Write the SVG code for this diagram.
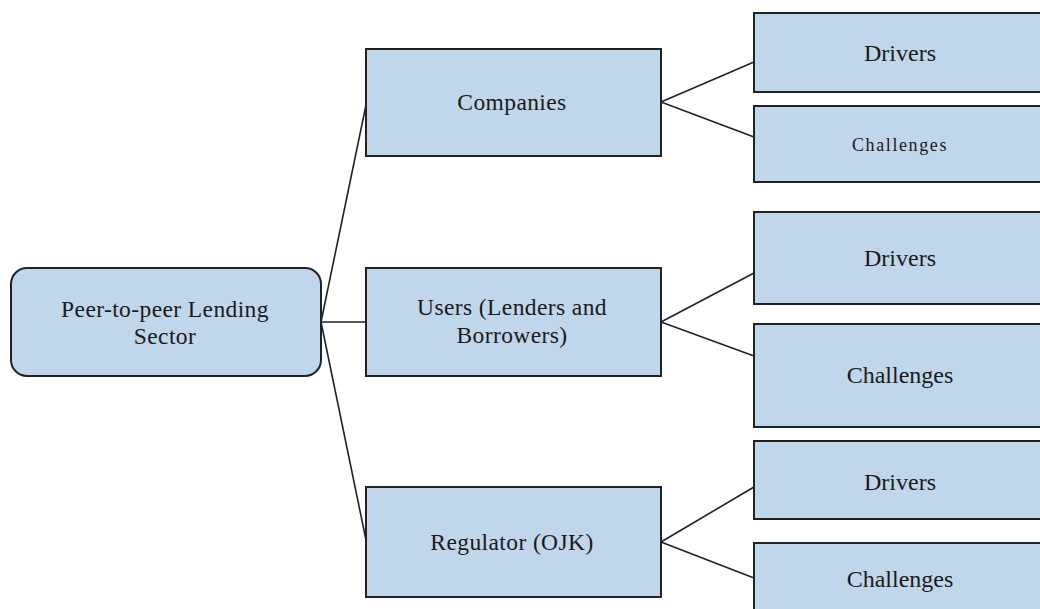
<svg xmlns="http://www.w3.org/2000/svg" width="1040" height="609" viewBox="0 0 1040 609">
<style>
.box{fill:#c0d6ea;stroke:#222;stroke-width:2}
.t{font-family:"Liberation Serif","Times New Roman",serif;font-size:24px;fill:#1a1a1a;text-anchor:middle}
.m{font-size:23.5px;letter-spacing:0.4px}
.sm{font-size:18px;letter-spacing:1.6px}
.c{fill:none;stroke:#222;stroke-width:1.6}
</style>
<rect width="1040" height="609" fill="#fff"/>
<g id="connectors">
<line class="c" x1="321" y1="322" x2="366" y2="105"/>
<line class="c" x1="321" y1="322" x2="366" y2="322"/>
<line class="c" x1="321" y1="322" x2="366" y2="540"/>
<line class="c" x1="661" y1="102" x2="754" y2="62"/>
<line class="c" x1="661" y1="102" x2="754" y2="137"/>
<line class="c" x1="661" y1="322" x2="754" y2="273"/>
<line class="c" x1="661" y1="322" x2="754" y2="356"/>
<line class="c" x1="661" y1="542" x2="754" y2="487"/>
<line class="c" x1="661" y1="542" x2="754" y2="578"/>
</g>
<g id="root">
<rect class="box" x="11" y="268" width="310" height="108" rx="16"/>
<text class="t m" x="165" y="317">Peer-to-peer Lending</text>
<text class="t m" x="165" y="344">Sector</text>
</g>
<g id="companies">
<rect class="box" x="366" y="49" width="295" height="107"/>
<text class="t m" x="512" y="110">Companies</text>
</g>
<g id="users">
<rect class="box" x="366" y="268" width="295" height="108"/>
<text class="t m" x="512" y="315">Users (Lenders and</text>
<text class="t m" x="512" y="343">Borrowers)</text>
</g>
<g id="regulator">
<rect class="box" x="366" y="487" width="295" height="110"/>
<text class="t m" x="512" y="550">Regulator (OJK)</text>
</g>
<g id="drivers1">
<rect class="box" x="754" y="13" width="300" height="79"/>
<text class="t" x="900" y="61">Drivers</text>
</g>
<g id="challenges1">
<rect class="box" x="754" y="106" width="300" height="76"/>
<text class="t sm" x="900" y="151">Challenges</text>
</g>
<g id="drivers2">
<rect class="box" x="754" y="212" width="300" height="92"/>
<text class="t" x="900" y="266">Drivers</text>
</g>
<g id="challenges2">
<rect class="box" x="754" y="324" width="300" height="103"/>
<text class="t" x="900" y="383">Challenges</text>
</g>
<g id="drivers3">
<rect class="box" x="754" y="441" width="300" height="78"/>
<text class="t" x="900" y="490">Drivers</text>
</g>
<g id="challenges3">
<rect class="box" x="754" y="543" width="300" height="80"/>
<text class="t" x="900" y="587">Challenges</text>
</g>
</svg>
